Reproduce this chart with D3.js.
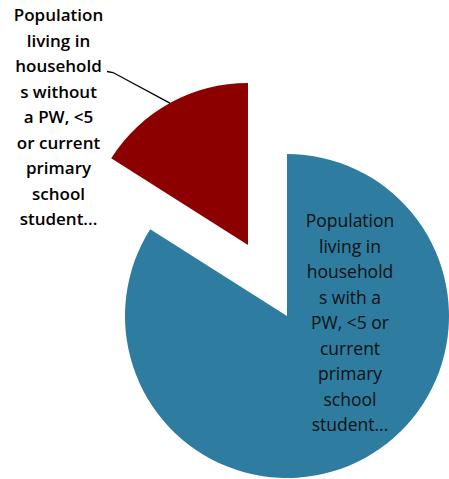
<!DOCTYPE html>
<html>
<head>
<meta charset="utf-8">
<script src="https://cdn.jsdelivr.net/npm/d3@7"></script>
<style>
  html, body { margin: 0; padding: 0; background: #ffffff; }
  svg { display: block; }
</style>
</head>
<body>
<svg id="chart" width="449" height="479"></svg>
<script>
// Share of population by household type (percent)
const categories = [
  "Population living in households with a PW, <5 or current primary school student...",
  "Population living in households without a PW, <5 or current primary school student..."
];
const values = [84, 16];
const colors = ["#2e7c9f", "#8c0000"];
// Wrapped label lines as shown in each slice's label box
const labelLines = [
  ["Population", "living in", "household", "s with a", "PW, <5 or", "current", "primary", "school", "student..."],
  ["Population", "living in", "household", "s without", "a PW, <5", "or current", "primary", "school", "student..."]
];

const svg = d3.select("#chart");
const cx = 287, cy = 316, radius = 162;
const explode = [0, 81];

const pie = d3.pie().sort(null).value(d => d)(values);
const arc = d3.arc().innerRadius(0).outerRadius(radius);

const g = svg.append("g").attr("transform", `translate(${cx},${cy})`);

function offset(d, dist) {
  const mid = (d.startAngle + d.endAngle) / 2;
  return [Math.sin(mid) * dist, -Math.cos(mid) * dist];
}

g.selectAll("path.slice")
  .data(pie)
  .join("path")
  .attr("class", "slice")
  .attr("d", arc)
  .attr("fill", (d, i) => colors[i])
  .attr("transform", (d, i) => {
    const [dx, dy] = offset(d, explode[i]);
    return `translate(${dx},${dy})`;
  });

const lineH = 25.5;

// Label inside the large slice
const inLbl = g.append("text")
  .attr("text-anchor", "middle")
  .attr("font-family", "'Open Sans', sans-serif")
  .attr("font-size", 17.5)
  .attr("fill", "#111");
labelLines[0].forEach((t, k) => {
  inLbl.append("tspan").attr("x", 63).attr("y", -89 + k * lineH).text(t);
});

// Label for the exploded slice, placed outside with a leader line
const outLbl = svg.append("text")
  .attr("text-anchor", "middle")
  .attr("font-family", "'Open Sans', sans-serif")
  .attr("font-weight", 600)
  .attr("font-size", 17)
  .attr("fill", "#000");
labelLines[1].forEach((t, k) => {
  outLbl.append("tspan").attr("x", 58.5).attr("y", 21 + k * lineH).text(t);
});

const red = pie[1];
const [ex, ey] = offset(red, explode[1]);
const [ax, ay] = offset(red, radius);
const tip = [cx + ex + ax, cy + ey + ay];
svg.append("path")
  .attr("d", d3.line()([[107, 71.5], [113, 72.5], tip]))
  .attr("fill", "none")
  .attr("stroke", "#000")
  .attr("stroke-width", 1.3);
</script>
</body>
</html>
